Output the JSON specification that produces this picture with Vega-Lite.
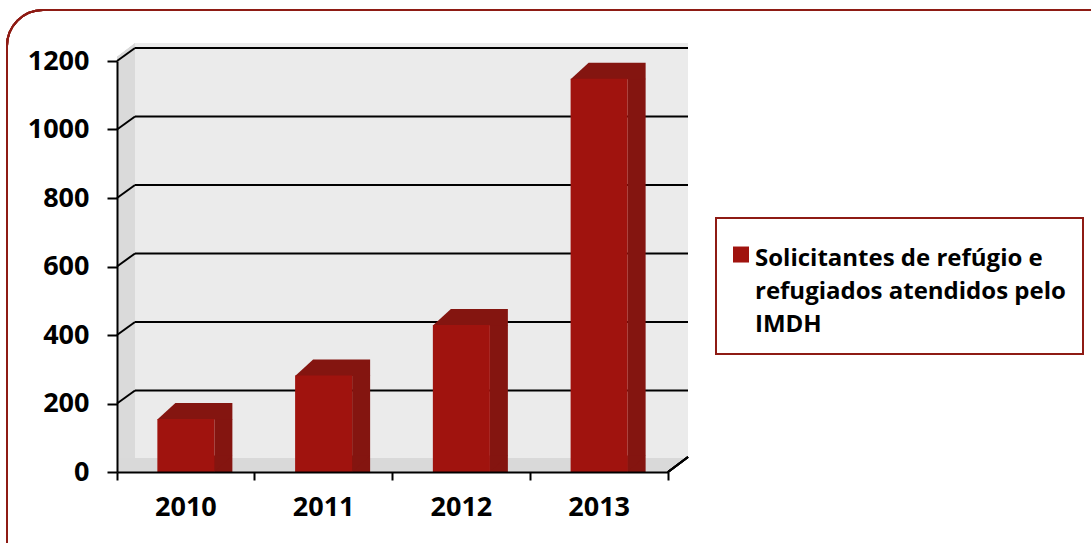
{
  "$schema": "https://vega.github.io/schema/vega-lite/v6.json",
  "autosize": "none",
  "padding": {"left": 117, "top": 61, "right": 423, "bottom": 71},
  "width": 551,
  "height": 411,
  "background": "white",
  "config": {"view": {"stroke": null}},
  "datasets": {
    "bars": [
      {"year": "2010", "value": 155, "series": "Solicitantes de refúgio e refugiados atendidos pelo IMDH"},
      {"year": "2011", "value": 282, "series": "Solicitantes de refúgio e refugiados atendidos pelo IMDH"},
      {"year": "2012", "value": 429, "series": "Solicitantes de refúgio e refugiados atendidos pelo IMDH"},
      {"year": "2013", "value": 1148, "series": "Solicitantes de refúgio e refugiados atendidos pelo IMDH"}
    ],
    "ticks": [{"v": 200}, {"v": 400}, {"v": 600}, {"v": 800}, {"v": 1000}, {"v": 1200}]
  },
  "layer": [
    {
      "data": {"name": "bars"},
      "mark": {"type": "rect", "fill": null, "stroke": "#8e1b14", "strokeWidth": 2, "cornerRadius": 36, "xOffset": -110, "x2Offset": 460, "yOffset": -51, "y2Offset": 120},
      "encoding": {"x": {"value": 0}, "x2": {"value": "width"}, "y": {"value": 0}, "y2": {"value": "height"}}
    },
    {
      "data": {"name": "bars"},
      "mark": {"type": "rect", "fill": "#ebebeb", "xOffset": 18, "x2Offset": 20, "yOffset": -18, "y2Offset": -14},
      "encoding": {
        "x": {"value": 0}, "x2": {"value": "width"},
        "y": {"datum": 1200, "type": "quantitative", "scale": {"domain": [0, 1200], "nice": false}},
        "y2": {"datum": 0}
      }
    },
    {
      "data": {"name": "bars"},
      "mark": {"type": "rect", "fill": "#dadada", "x2Offset": 18, "yOffset": -18},
      "encoding": {"x": {"value": 0}, "x2": {"value": 0}, "y": {"datum": 1200, "type": "quantitative"}, "y2": {"datum": 0}}
    },
    {
      "data": {"name": "bars"},
      "mark": {"type": "rect", "fill": "#d9d9d9", "x2Offset": 18, "yOffset": -14},
      "encoding": {"x": {"value": 0}, "x2": {"value": "width"}, "y": {"datum": 0, "type": "quantitative"}, "y2": {"datum": 0}}
    },
    {
      "data": {"name": "bars"},
      "mark": {"type": "point", "shape": "M -1 -4 L 18 -18.5 L -1 -18.5 Z", "size": 4, "filled": true, "fill": "white", "opacity": 1, "strokeWidth": 0},
      "encoding": {"x": {"value": 0}, "y": {"datum": 1200, "type": "quantitative"}}
    },
    {
      "data": {"name": "bars"},
      "mark": {"type": "point", "shape": "M 0 0.5 L 20 -15 L 22 -15 L 22 0.5 Z", "size": 4, "filled": true, "fill": "white", "opacity": 1, "strokeWidth": 0},
      "encoding": {"x": {"value": "width"}, "y": {"datum": 0, "type": "quantitative"}}
    },
    {
      "data": {"name": "ticks"},
      "mark": {"type": "rule", "color": "black", "strokeWidth": 2, "xOffset": 18, "x2Offset": 20, "yOffset": -13},
      "encoding": {"x": {"value": 0}, "x2": {"value": "width"}, "y": {"field": "v", "type": "quantitative"}}
    },
    {
      "data": {"name": "ticks"},
      "mark": {"type": "rule", "color": "black", "strokeWidth": 2, "x2Offset": 18, "y2Offset": -13},
      "encoding": {"x": {"value": 0}, "x2": {"value": 0}, "y": {"field": "v", "type": "quantitative"}, "y2": {"field": "v"}}
    },
    {
      "data": {"name": "bars"},
      "mark": {"type": "rule", "color": "black", "strokeWidth": 2, "x2Offset": 20, "y2Offset": -15},
      "encoding": {"x": {"value": "width"}, "x2": {"value": "width"}, "y": {"datum": 0, "type": "quantitative"}, "y2": {"datum": 0}}
    },
    {
      "data": {"name": "bars"},
      "mark": {"type": "bar", "fill": "#841510", "xOffset": 37.5, "width": 18, "y2Offset": -16},
      "encoding": {
        "x": {"field": "year", "type": "nominal", "scale": {"paddingInner": 0, "paddingOuter": 0}},
        "y": {"field": "value", "type": "quantitative"}
      }
    },
    {
      "data": {"name": "bars"},
      "mark": {"type": "point", "shape": "M 28 -16.5 L 46.5 -16.5 L 28 0.3 Z", "size": 4, "filled": true, "fill": "#841510", "opacity": 1, "strokeWidth": 0},
      "encoding": {"x": {"field": "year", "type": "nominal"}, "y": {"datum": 0, "type": "quantitative"}}
    },
    {
      "data": {"name": "bars"},
      "mark": {"type": "point", "shape": "M -28.5 0.5 L -10.5 -16 L 46.5 -16 L 46.5 0.5 Z", "size": 4, "filled": true, "fill": "#841510", "opacity": 1, "strokeWidth": 0},
      "encoding": {"x": {"field": "year", "type": "nominal"}, "y": {"field": "value", "type": "quantitative"}}
    },
    {
      "data": {"name": "bars"},
      "mark": {"type": "bar", "width": {"band": 0.414}},
      "encoding": {
        "x": {
          "field": "year", "type": "nominal", "title": null,
          "axis": {"labelAngle": 0, "bandPosition": 1, "tickExtra": true, "labelAlign": "center", "tickSize": 8, "tickWidth": 2, "tickColor": "black", "domainColor": "black", "domainWidth": 2, "labelFont": "Open Sans", "labelFontSize": 27, "labelFontWeight": "bold", "labelColor": "black", "labelPadding": 27, "zindex": 1}
        },
        "y": {
          "field": "value", "type": "quantitative", "title": null,
          "axis": {"values": [0, 200, 400, 600, 800, 1000, 1200], "format": "d", "grid": false, "tickSize": 10, "tickWidth": 2, "tickColor": "black", "domainColor": "black", "domainWidth": 2, "labelFont": "Open Sans", "labelFontSize": 27, "labelFontWeight": "bold", "labelColor": "black", "labelPadding": 18, "zindex": 1}
        },
        "color": {
          "field": "series", "type": "nominal",
          "scale": {"range": ["#a0130e"]},
          "legend": {
            "orient": "none", "legendX": 599, "legendY": 157, "title": null,
            "symbolType": "M -1.5 -0.06 L 0.5 -0.06 L 0.5 1.94 L -1.5 1.94 Z", "symbolSize": 256, "symbolFillColor": "#841510", "symbolStrokeWidth": 0,
            "labelFont": "Open Sans", "labelFontSize": 24, "labelFontWeight": "bold", "labelColor": "black",
            "labelExpr": "['Solicitantes de refúgio e', 'refugiados atendidos pelo', 'IMDH']",
            "labelLimit": 500, "labelOffset": -2, "labelBaseline": "top",
            "padding": 17, "strokeColor": "#8e1b14",
            "encode": {"legend": {"update": {"strokeWidth": {"value": 2}}}, "labels": {"update": {"lineHeight": {"value": 33}}}}
          }
        }
      }
    }
  ]
}
